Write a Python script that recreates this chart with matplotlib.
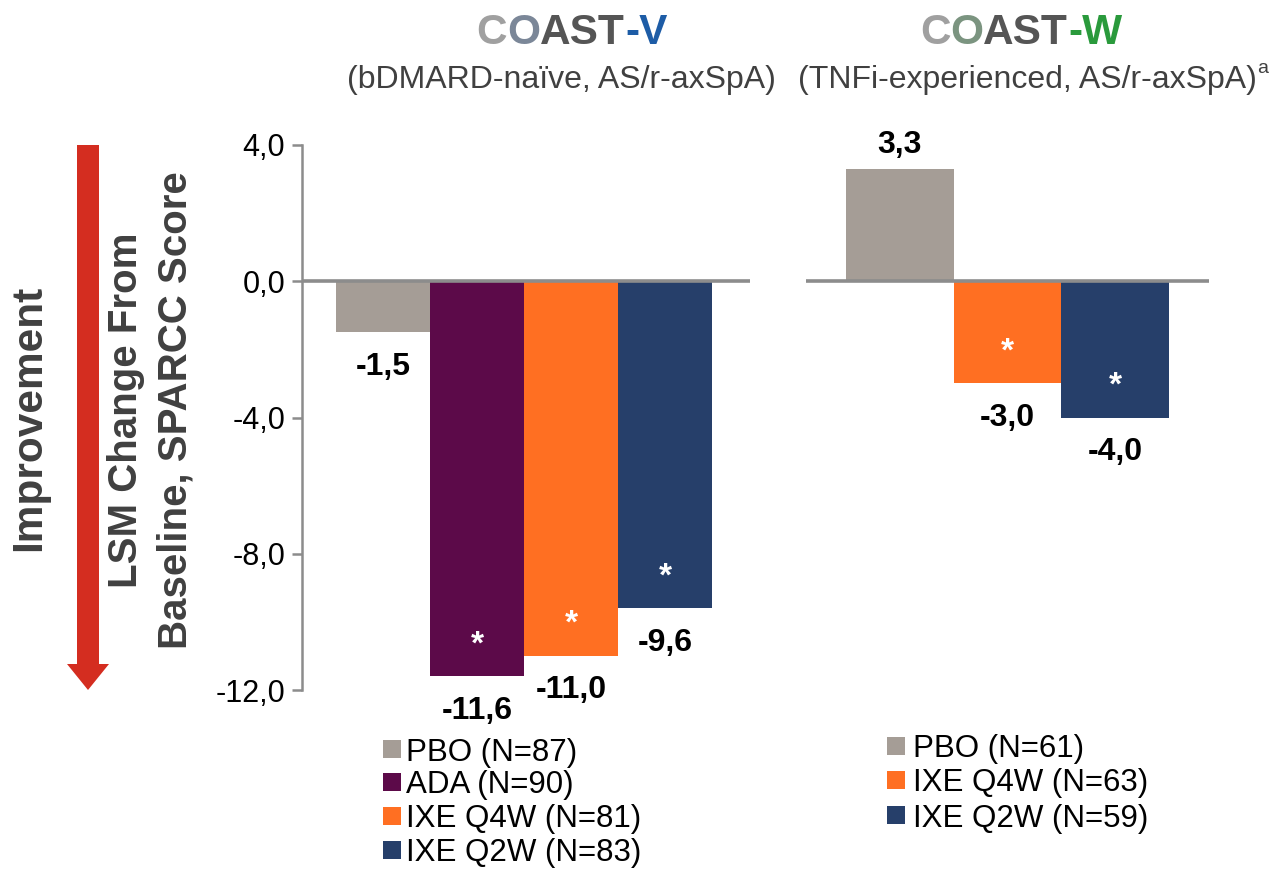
import matplotlib
matplotlib.use("Agg")
import matplotlib.pyplot as plt
from matplotlib.patches import Rectangle, Polygon

plt.rcParams["font.family"] = ["Liberation Sans", "DejaVu Sans"]

# ---- data -------------------------------------------------------------
v_groups = ["PBO", "ADA", "IXE Q4W", "IXE Q2W"]
v_n = [87, 90, 81, 83]
v_values = [-1.5, -11.6, -11.0, -9.6]
v_sig = [False, True, True, True]

w_groups = ["PBO", "IXE Q4W", "IXE Q2W"]
w_n = [61, 63, 59]
w_values = [3.3, -3.0, -4.0]
w_sig = [False, True, True]

y_ticks = [4.0, 0.0, -4.0, -8.0, -12.0]
y_tick_labels = ["4,0", "0,0", "-4,0", "-8,0", "-12,0"]

group_colors = {
    "PBO": "#a59d96",
    "ADA": "#5c0a49",
    "IXE Q4W": "#ff6f22",
    "IXE Q2W": "#263f6a",
}

# ---- figure -----------------------------------------------------------
W, H = 1271, 869
fig = plt.figure(figsize=(W / 100, H / 100), dpi=100)
fig.patch.set_facecolor("white")

# full-figure overlay in pixel units for the arrow and legends
bg = fig.add_axes([0, 0, 1, 1], zorder=-1)
bg.set_xlim(0, W)
bg.set_ylim(H, 0)
bg.set_axis_off()


def px_axes(x0, y_top, x1, y_bot):
    return fig.add_axes([x0 / W, 1 - y_bot / H, (x1 - x0) / W, (y_bot - y_top) / H])


ax_v = px_axes(302, 145, 750, 690)
ax_w = px_axes(806, 145, 1209, 690)

GRAY_LINE = "#8c8c8c"


def fmt(v):
    return f"{v:.1f}".replace(".", ",")


def draw_panel(ax, groups, values, sig, xlim):
    xs = list(range(len(groups)))
    ax.bar(xs, values, width=1.0, color=[group_colors[g] for g in groups],
           edgecolor="none", zorder=2)
    ax.axhline(0, color=GRAY_LINE, lw=2.6, zorder=3)
    ax.set_xlim(*xlim)
    ax.set_ylim(-12, 4)
    ax.set_xticks([])
    for s in ("top", "right", "bottom"):
        ax.spines[s].set_visible(False)
    for x, v, s in zip(xs, values, sig):
        if v < 0:
            ax.annotate(fmt(v), (x, v), xytext=(0, -30.6), textcoords="offset points",
                        ha="center", va="baseline", fontsize=23, fontweight="bold",
                        color="black")
            if s:
                ax.annotate("*", (x, v), xytext=(0, 16.6), textcoords="offset points",
                            ha="center", va="baseline", fontsize=24, fontweight="bold",
                            color="white", zorder=4)
        else:
            ax.annotate(fmt(v), (x, v), xytext=(0, 11.2), textcoords="offset points",
                        ha="center", va="baseline", fontsize=23, fontweight="bold",
                        color="black")


draw_panel(ax_v, v_groups, v_values, v_sig, (-0.862, 3.904))
draw_panel(ax_w, w_groups, w_values, w_sig, (-0.866, 2.866))

# left value axis
ax_v.spines["left"].set_color(GRAY_LINE)
ax_v.spines["left"].set_linewidth(1.8)
ax_v.set_yticks(y_ticks)
ax_v.set_yticklabels(y_tick_labels)
ax_v.tick_params(axis="y", direction="out", length=7, width=1.8, color=GRAY_LINE,
                 labelsize=22, labelcolor="black", pad=5)

# right panel: no axis
ax_w.spines["left"].set_visible(False)
ax_w.set_yticks([])

# ---- improvement arrow -----------------------------------------------
ARROW_RED = "#d42d20"
bg.add_patch(Rectangle((77, 145), 22, 520, color=ARROW_RED, lw=0))
bg.add_patch(Polygon([(67, 664), (109, 664), (88, 690)], closed=True,
                     color=ARROW_RED, lw=0))

# ---- axis titles ------------------------------------------------------
TXT_GRAY = "#404040"
fig.text(29 / W, 1 - 418 / H, "Improvement", rotation=90, ha="center", va="center",
         fontsize=30.5, fontweight="bold", color=TXT_GRAY)
fig.text(151 / W, 1 - 410 / H, "LSM Change From\nBaseline, SPARCC Score", rotation=90,
         ha="center", va="center", fontsize=29, fontweight="bold", color=TXT_GRAY,
         linespacing=1.38, multialignment="center")

# ---- study headings ---------------------------------------------------
renderer = fig.canvas.get_renderer()


def heading(cx, base_px, parts, size, weight):
    texts = [fig.text(0, 1 - base_px / H, s, color=c, fontsize=size,
                      fontweight=weight, va="baseline", ha="left") for s, c in parts]
    widths = [t.get_window_extent(renderer).width for t in texts]
    x = cx - sum(widths) / 2
    for t, w in zip(texts, widths):
        t.set_x(x / W)
        x += w
    return x


heading(572, 44, [("C", "#a0a0a0"), ("O", "#7b8798"), ("AST", "#555555"),
                  ("-V", "#1d5ca6")], 30.5, "bold")
heading(1021, 44, [("C", "#a0a0a0"), ("O", "#7b9480"), ("AST", "#555555"),
                   ("-W", "#2a9a3c")], 30.5, "bold")

fig.text(561 / W, 1 - 88 / H, "(bDMARD-naïve, AS/r-axSpA)", ha="center",
         va="baseline", fontsize=23, color=TXT_GRAY)
sub_w = fig.text(1027 / W, 1 - 88 / H, "(TNFi-experienced, AS/r-axSpA)", ha="center",
                 va="baseline", fontsize=23, color=TXT_GRAY)
bb = sub_w.get_window_extent(renderer)
fig.text((bb.x1 + 1) / W, 1 - 73 / H, "a", ha="left", va="baseline",
         fontsize=14, color=TXT_GRAY)

# ---- legends ----------------------------------------------------------


def legend(x_marker, text_x, rows_y, groups, ns):
    for g, n, y in zip(groups, ns, rows_y):
        bg.add_patch(Rectangle((x_marker, y - 9), 18, 18, color=group_colors[g], lw=0))
        bg.text(text_x, y, f"{g} (N={n})", ha="left", va="center_baseline",
                fontsize=22.5, color="black")


legend(383, 406, [749, 782, 816, 850], v_groups, v_n)
legend(887, 913, [746, 780, 815], w_groups, w_n)

fig.savefig("out.png", dpi=100, facecolor="white")
